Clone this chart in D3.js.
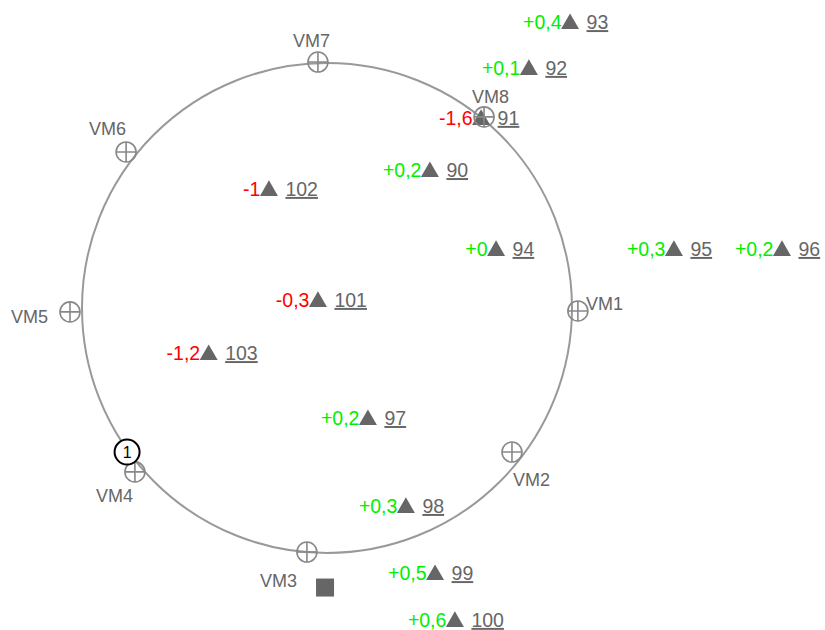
<!DOCTYPE html>
<head>
  <meta charset="utf-8">
  <script src="https://d3js.org/d3.v7.min.js"></script>
  <style>
    body { margin: 0; background: #fff; }
    text { font-family: "Liberation Sans", Arial, Helvetica, sans-serif; }
    .num { fill: #666; text-decoration: underline; }
    .vm-label { fill: #666; }
  </style>
</head>
<body>
  <svg width="825" height="630"></svg>
  <script>
    // survey points, coordinates in units of the reference circle (radius 100)
    var pointIds = ["93", "92", "91", "90", "102", "94", "95", "96", "101", "103", "97", "98", "99", "100"];
    var pointX = [99.2, 82.4, 62.9, 42.0, -23.7, 69.0, 141.6, 185.7, -3.7, -48.3, 16.7, 32.2, 44.1, 52.2];
    var pointY = [116.9, 98.2, 77.8, 56.5, 48.8, 24.3, 24.3, 24.3, 3.5, -18.2, -44.7, -80.6, -108.0, -127.1];
    var deltas = ["+0,4", "+0,1", "-1,6", "+0,2", "-1", "+0", "+0,3", "+0,2", "-0,3", "-1,2", "+0,2", "+0,3", "+0,5", "+0,6"];

    // reference markers
    var vmNames = ["VM1", "VM2", "VM3", "VM4", "VM5", "VM6", "VM7", "VM8"];
    var vmX = [102.4, 75.5, -8.2, -78.4, -104.9, -82.0, -3.7, 64.1];
    var vmY = [-1.2, -58.8, -99.6, -66.9, -1.6, 63.7, 100.4, 78.0];

    var stationX = -0.8, stationY = -114.1;   // square
    var tagX = -81.6, tagY = -58.8;           // numbered circle "1"
    var circleRadius = 100;

    // label placement for each VM (dx, dy in px, anchor)
    var vmLabelPos = [
      [8, -1, "start"], [1, 34, "start"], [-10, 35, "end"], [-2, 30, "end"],
      [-22, 11, "end"], [0, -17, "end"], [12, -15, "end"], [-12, -14, "start"]
    ];

    var svg = d3.select("svg");
    var k = 2.45;
    var x = d3.scaleLinear().domain([0, 100]).range([327, 327 + 100 * k]);
    var y = d3.scaleLinear().domain([0, 100]).range([308, 308 - 100 * k]);

    svg.append("circle")
      .attr("cx", x(0))
      .attr("cy", y(0))
      .attr("r", x(circleRadius) - x(0))
      .attr("fill", "none")
      .attr("stroke", "#999")
      .attr("stroke-width", 2);

    var points = pointIds.map(function (id, i) {
      return { id: id, x: pointX[i], y: pointY[i], delta: deltas[i] };
    });

    var pg = svg.append("g").selectAll("g")
      .data(points)
      .enter().append("g")
      .attr("transform", function (d) { return "translate(" + x(d.x) + "," + (y(d.y) + 7.5) + ")"; });

    pg.append("path")
      .attr("d", "M-9,0L9,0L0,-15.6Z")
      .attr("fill", "#666");

    pg.append("text")
      .attr("x", -8.5)
      .attr("text-anchor", "end")
      .attr("font-size", 19.5)
      .attr("fill", function (d) { return d.delta.charAt(0) === "-" ? "#ff0000" : "#00ee00"; })
      .text(function (d) { return d.delta; });

    pg.append("text")
      .attr("class", "num")
      .attr("x", 16.5)
      .attr("font-size", 19.5)
      .text(function (d) { return d.id; });

    // station square
    svg.append("rect")
      .attr("x", x(stationX) - 9)
      .attr("y", y(stationY) - 9)
      .attr("width", 18)
      .attr("height", 18)
      .attr("fill", "#666");

    // VM crosshairs
    var vms = vmNames.map(function (n, i) {
      return { name: n, x: vmX[i], y: vmY[i], pos: vmLabelPos[i] };
    });

    var vg = svg.append("g").selectAll("g")
      .data(vms)
      .enter().append("g")
      .attr("transform", function (d) { return "translate(" + x(d.x) + "," + y(d.y) + ")"; });

    vg.append("circle")
      .attr("r", 10)
      .attr("fill", "none")
      .attr("stroke", "#888")
      .attr("stroke-width", 1.6);

    vg.append("path")
      .attr("d", "M-10,0H10M0,-10V10")
      .attr("stroke", "#888")
      .attr("stroke-width", 1.6);

    vg.append("text")
      .attr("class", "vm-label")
      .attr("x", function (d) { return d.pos[0]; })
      .attr("y", function (d) { return d.pos[1]; })
      .attr("text-anchor", function (d) { return d.pos[2]; })
      .attr("font-size", 18)
      .text(function (d) { return d.name; });

    // numbered tag
    var tag = svg.append("g")
      .attr("transform", "translate(" + x(tagX) + "," + y(tagY) + ")");
    tag.append("circle")
      .attr("r", 12.5)
      .attr("fill", "#fff")
      .attr("stroke", "#000")
      .attr("stroke-width", 2);
    tag.append("text")
      .attr("text-anchor", "middle")
      .attr("dy", "0.36em")
      .attr("font-size", 16)
      .attr("fill", "#000")
      .text("1");
  </script>
</body>
